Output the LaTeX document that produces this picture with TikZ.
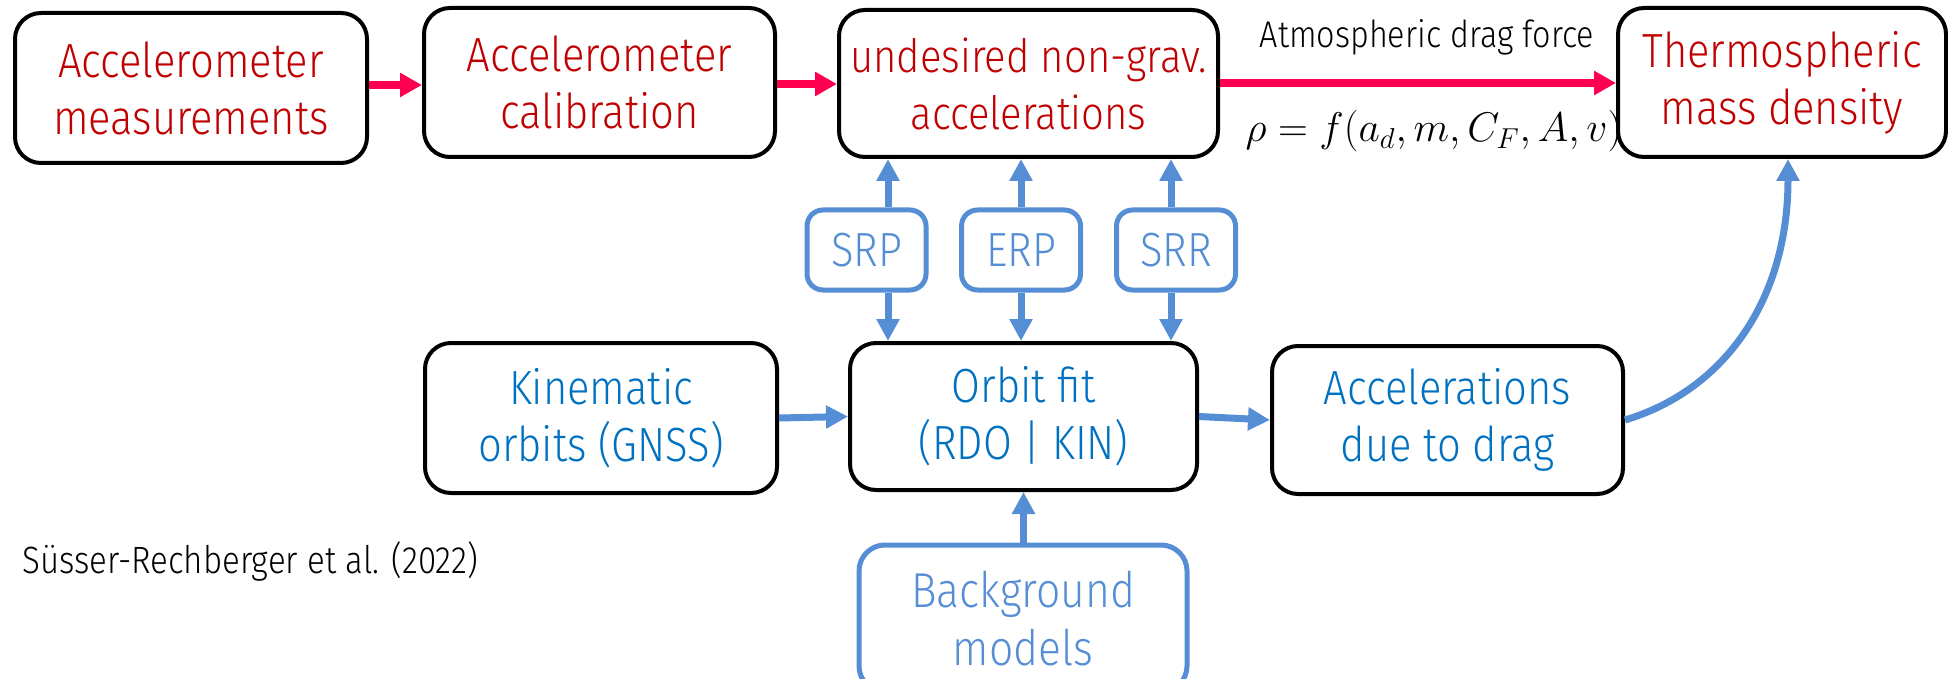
\documentclass[tikz,border=0pt]{standalone}
\usepackage{fontspec}
\setmainfont{Fira Sans}[UprightFont={* Light}, FakeStretch=0.87]
\usetikzlibrary{arrows.meta}
\definecolor{arrred}{RGB}{255,0,80}
\definecolor{txtred}{RGB}{192,0,0}
\definecolor{lblue}{RGB}{85,142,213}
\definecolor{dblue}{RGB}{0,112,192}
\begin{document}
\begin{tikzpicture}[x=0.5pt,y=-0.5pt,
  bbox/.style={draw=black, line width=2pt, rounded corners=13pt, align=center,
    font=\fontsize{24}{28.5}\selectfont, inner sep=0pt},
  smallbox/.style={draw=lblue, line width=2.5pt, rounded corners=8pt, align=center,
    text=lblue, font=\fontsize{24}{29}\selectfont, inner sep=0pt,
    minimum width=59.5pt, minimum height=40pt},
  rarrow/.style={draw=arrred, line width=4pt, -{Triangle[length=11pt,width=11.5pt]}},
  barrow/.style={draw=lblue, line width=3.5pt, -{Triangle[length=11pt,width=11pt]}},
  plain/.style={inner sep=0pt}
]
\clip (0,0) rectangle (1948,679);
% top row
\node[bbox, text=txtred, minimum width=176pt, minimum height=75pt] (am) at (191,88) {Accelerometer\\measurements};
\node[bbox, text=txtred, minimum width=175.5pt, minimum height=74.5pt] (ac) at (599.5,82.5) {Accelerometer\\calibration};
\node[bbox, text=txtred, minimum width=189.5pt, minimum height=73.5pt, font=\fontsize{23}{28.5}\selectfont] (un) at (1028.5,83.5) {undesired non-grav.\\accelerations};
\node[bbox, text=txtred, minimum width=164pt, minimum height=74.5pt] (th) at (1782,82.5) {Thermospheric\\mass density};
% small boxes
\node[smallbox] (srp) at (866.5,250) {SRP};
\node[smallbox] (erp) at (1021,250) {ERP};
\node[smallbox] (srr) at (1176,250) {SRR};
% middle row
\node[bbox, text=dblue, minimum width=176pt, minimum height=75pt] (kin) at (601,418) {Kinematic\\orbits (GNSS)};
\node[bbox, text=dblue, minimum width=173.5pt, minimum height=73.5pt] (of) at (1023.5,416.5) {Orbit fit\\(RDO | KIN)};
\node[bbox, text=dblue, minimum width=175.5pt, minimum height=74pt] (acd) at (1447.5,420) {Accelerations\\due to drag};
% background
\node[smallbox, minimum width=164pt, minimum height=73.5pt, rounded corners=13pt, font=\fontsize{24.5}{29}\selectfont] (bg) at (1023,618.5) {Background\\models};
% labels
\node[plain, font=\fontsize{18.6}{20}\selectfont, anchor=base] (lab) at (1427,48) {Atmospheric drag force};
\node[plain, font=\fontsize{19.5}{24}\selectfont, anchor=base] (form) at (1434,142) {$\rho = f(a_d, m, C_F, A, v)$};
\node[plain, font=\fontsize{19}{24}\selectfont, anchor=base west] (cite) at (22,573) {Süsser-Rechberger et al. (2022)};
% red arrows
\draw[rarrow] (am.east |- 0,85) -- (ac.west |- 0,85);
\draw[rarrow] (ac.east |- 0,84) -- (un.west |- 0,84);
\draw[rarrow] (un.east |- 0,83) -- (th.west |- 0,83);
% blue arrows
\draw[barrow] ([xshift=10.75pt]srp.north) -- ([xshift=10.75pt]srp.north |- un.south);
\draw[barrow] ([xshift=10.75pt]srp.south) -- ([xshift=10.75pt]srp.south |- of.north);
\draw[barrow] (erp.north) -- (erp.north |- un.south);
\draw[barrow] (erp.south) -- (erp.south |- of.north);
\draw[barrow] ([xshift=-2.5pt]srr.north) -- ([xshift=-2.5pt]srr.north |- un.south);
\draw[barrow] ([xshift=-2.5pt]srr.south) -- ([xshift=-2.5pt]srr.south |- of.north);
\draw[barrow] (kin.east) -- (of.west);
\draw[barrow] (of.east) -- (acd.west);
\draw[barrow] (bg.north -| of.south) -- (of.south);
\draw[barrow] (acd.east) .. controls +(100,-30) and +(0,140) .. ([xshift=3pt]th.south);
\end{tikzpicture}
\end{document}
